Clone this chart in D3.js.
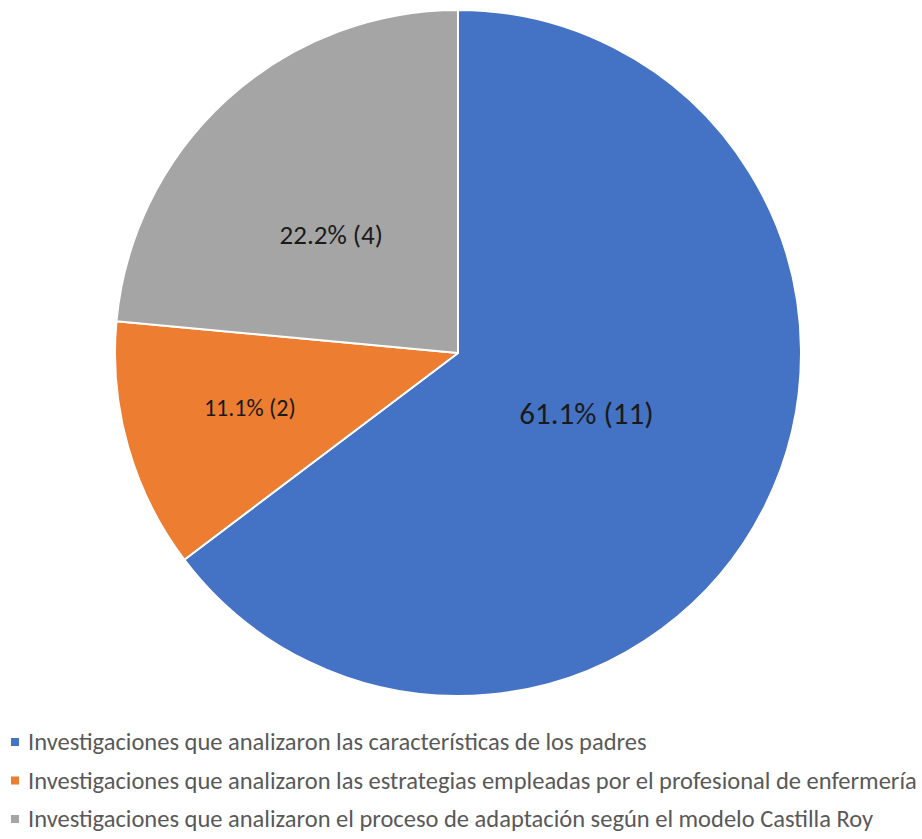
<!DOCTYPE html>
<html>
<head>
<meta charset="utf-8">
<script src="https://cdn.jsdelivr.net/npm/d3@7"></script>
<style>
  body { margin: 0; background: #fff; }
  text { font-family: Carlito, Lato, sans-serif; }
</style>
</head>
<body>
<script>
// data
const categories = [
  "Investigaciones que analizaron las características de los padres",
  "Investigaciones que analizaron las estrategias empleadas por el profesional de enfermería",
  "Investigaciones que analizaron el proceso de adaptación según el modelo Castilla Roy"
];
const counts = [11, 2, 4];
const percentLabels = ["61.1%", "11.1%", "22.2%"];
const colors = ["#4472C4", "#ED7D31", "#A5A5A5"];

// label placement (fraction of radius, angle nudge in degrees, font size)
const labelRadius = [0.413, 0.627, 0.505];
const labelNudge = [-1.5, 1.3, -4.7];
const labelSize = [31, 24, 27];

const width = 922, height = 839;
const cx = 458, cy = 353, radius = 343;

const svg = d3.select("body").append("svg")
  .attr("width", width).attr("height", height);

const data = categories.map((c, i) => ({ name: c, value: counts[i], pct: percentLabels[i], i: i }));

const pie = d3.pie().value(d => d.value).sort(null);
const arcs = pie(data);
const arc = d3.arc().innerRadius(0).outerRadius(radius);

const g = svg.append("g").attr("transform", "translate(" + cx + "," + cy + ")");

g.selectAll("path").data(arcs).enter().append("path")
  .attr("d", arc)
  .attr("fill", d => colors[d.data.i])
  .attr("stroke", "#fff")
  .attr("stroke-width", 2)
  .attr("stroke-linejoin", "round");

g.selectAll("text.lbl").data(arcs).enter().append("text")
  .attr("class", "lbl")
  .attr("transform", d => {
    const a = (d.startAngle + d.endAngle) / 2 + labelNudge[d.data.i] * Math.PI / 180;
    const r = radius * labelRadius[d.data.i];
    return "translate(" + (Math.sin(a) * r) + "," + (-Math.cos(a) * r) + ")";
  })
  .attr("text-anchor", "middle")
  .attr("dominant-baseline", "central")
  .attr("font-size", d => labelSize[d.data.i])
  .attr("fill", "#1a1a1a")
  .text(d => d.data.pct + " (" + d.data.value + ")");

// legend
const legend = svg.append("g").attr("transform", "translate(11,742)");
const rows = legend.selectAll("g").data(data).enter().append("g")
  .attr("transform", (d, i) => "translate(0," + (i * 38.5) + ")");
rows.append("rect")
  .attr("x", 0).attr("y", -4)
  .attr("width", 8).attr("height", 8)
  .attr("fill", d => colors[d.i]);
rows.append("text")
  .attr("x", 17)
  .attr("dominant-baseline", "central")
  .attr("font-size", 24.5)
  .attr("fill", "#595959")
  .text(d => d.name);
</script>
</body>
</html>
